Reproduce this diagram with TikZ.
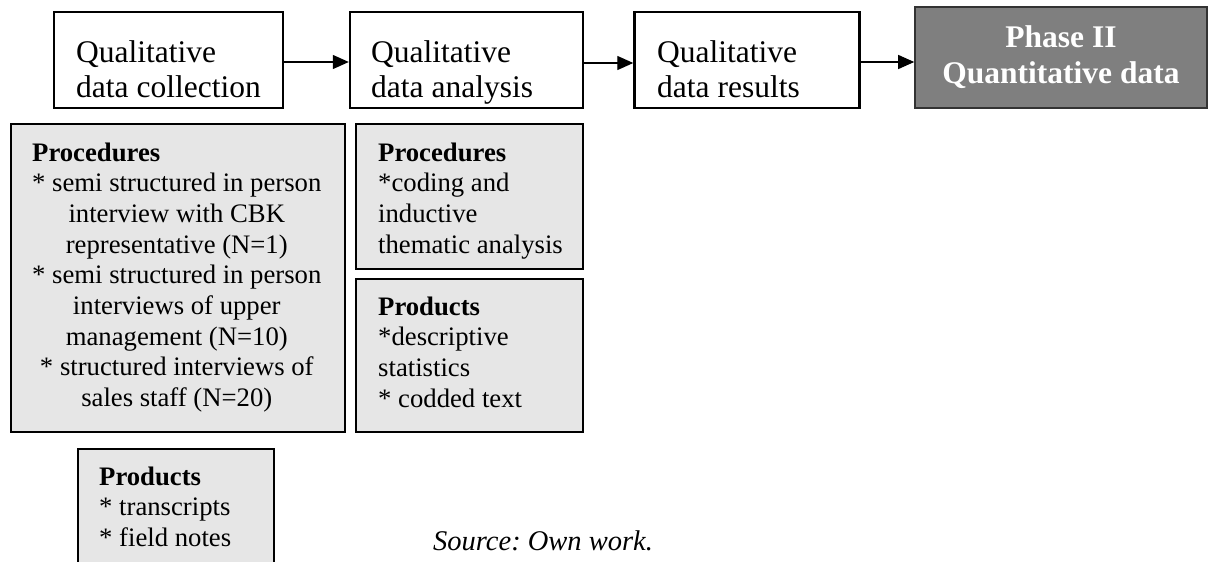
\documentclass[tikz,border=0pt]{standalone}
\usepackage{fontspec}
\setmainfont{Liberation Serif}
\usetikzlibrary{arrows.meta}
\definecolor{boxgray}{HTML}{E6E6E6}
\definecolor{phasegray}{HTML}{7F7F7F}
\frenchspacing
\begin{document}
\begin{tikzpicture}[x=1pt,y=-1pt,
  box/.style={rectangle, draw=black, line width=2.4pt, inner sep=0pt},
  topbox/.style={box, fill=white},
  graybox/.style={box, fill=boxgray},
  phasebox/.style={rectangle, draw=black!80, line width=1.6pt, fill=phasegray, inner sep=0pt},
  toptext/.style={inner sep=0pt, font=\fontsize{31.5}{35}\selectfont, anchor=base west},
  phasetext/.style={inner sep=0pt, text=white, font=\bfseries\fontsize{31.5}{36}\selectfont, anchor=base},
  graytext/.style={inner sep=0pt, font=\fontsize{26.7}{30.7}\selectfont, anchor=base west},
  srctext/.style={inner sep=0pt, font=\itshape\fontsize{28.5}{33}\selectfont, anchor=base west},
  arr/.style={-{Triangle[length=16pt,width=14pt]}, line width=1.3pt}
]
\clip (0,0) rectangle (1208,562);
\fill[white] (0,0) rectangle (1208,562);

% top row boxes
\node[topbox, minimum width=229pt, minimum height=96pt] (b1) at (168.5,60) {};
\node[topbox, minimum width=233pt, minimum height=96pt] (b2) at (466.5,60) {};
\node[topbox, minimum width=225pt, minimum height=96pt] (b3) at (747,60) {};
\node[phasebox, minimum width=292pt, minimum height=101pt] (b4) at (1061,57.5) {};

\node[toptext] (t1) at (76,62) {\begin{tabular}[t]{@{}l@{}}Qualitative\\data collection\end{tabular}};
\node[toptext] (t2) at (371,62) {\begin{tabular}[t]{@{}l@{}}Qualitative\\data analysis\end{tabular}};
\node[toptext] (t3) at (657,62) {\begin{tabular}[t]{@{}l@{}}Qualitative\\data results\end{tabular}};
\node[phasetext] (t4) at (1061,47) {\begin{tabular}[t]{@{}c@{}}Phase II\\Quantitative data\end{tabular}};

% arrows
\draw[arr] ([yshift=-2pt]b1.east) -- ([yshift=-2pt]b1.east -| b2.west);
\draw[arr] ([yshift=-3pt]b2.east) -- ([yshift=-3pt]b2.east -| b3.west);
\draw[arr] ([yshift=-2pt]b3.east) -- ([yshift=-2pt]b3.east -| b4.west);

% gray boxes
\node[graybox, minimum width=334pt, minimum height=308pt] (p1) at (178,278) {};
\node[graybox, minimum width=227pt, minimum height=145pt] (p2) at (469.5,196.5) {};
\node[graybox, minimum width=227pt, minimum height=153pt] (p3) at (469.5,355.5) {};
\node[graybox, minimum width=196pt, minimum height=140pt] (p4) at (176,519) {};

\node[graytext] (q1) at (32,161) {\begin{tabular}[t]{@{}c@{}}
\multicolumn{1}{@{}l@{}}{\textbf{Procedures}}\\
{*} semi structured in person\\
interview with CBK\\
representative (N=1)\\
{*} semi structured in person\\
interviews of upper\\
management (N=10)\\
{*} structured interviews of\\
sales staff (N=20)
\end{tabular}};

\node[graytext] (q2) at (378,161) {\begin{tabular}[t]{@{}l@{}}
\textbf{Procedures}\\
{*}coding and\\
inductive\\
thematic analysis
\end{tabular}};

\node[graytext] (q3) at (378,315) {\begin{tabular}[t]{@{}l@{}}
\textbf{Products}\\
{*}descriptive\\
statistics\\
{*} codded text
\end{tabular}};

\node[graytext] (q4) at (99,485) {\begin{tabular}[t]{@{}l@{}}
\textbf{Products}\\
{*} transcripts\\
{*} field notes
\end{tabular}};

\node[srctext] (src) at (433,550) {Source: Own work.};
\end{tikzpicture}
\end{document}
